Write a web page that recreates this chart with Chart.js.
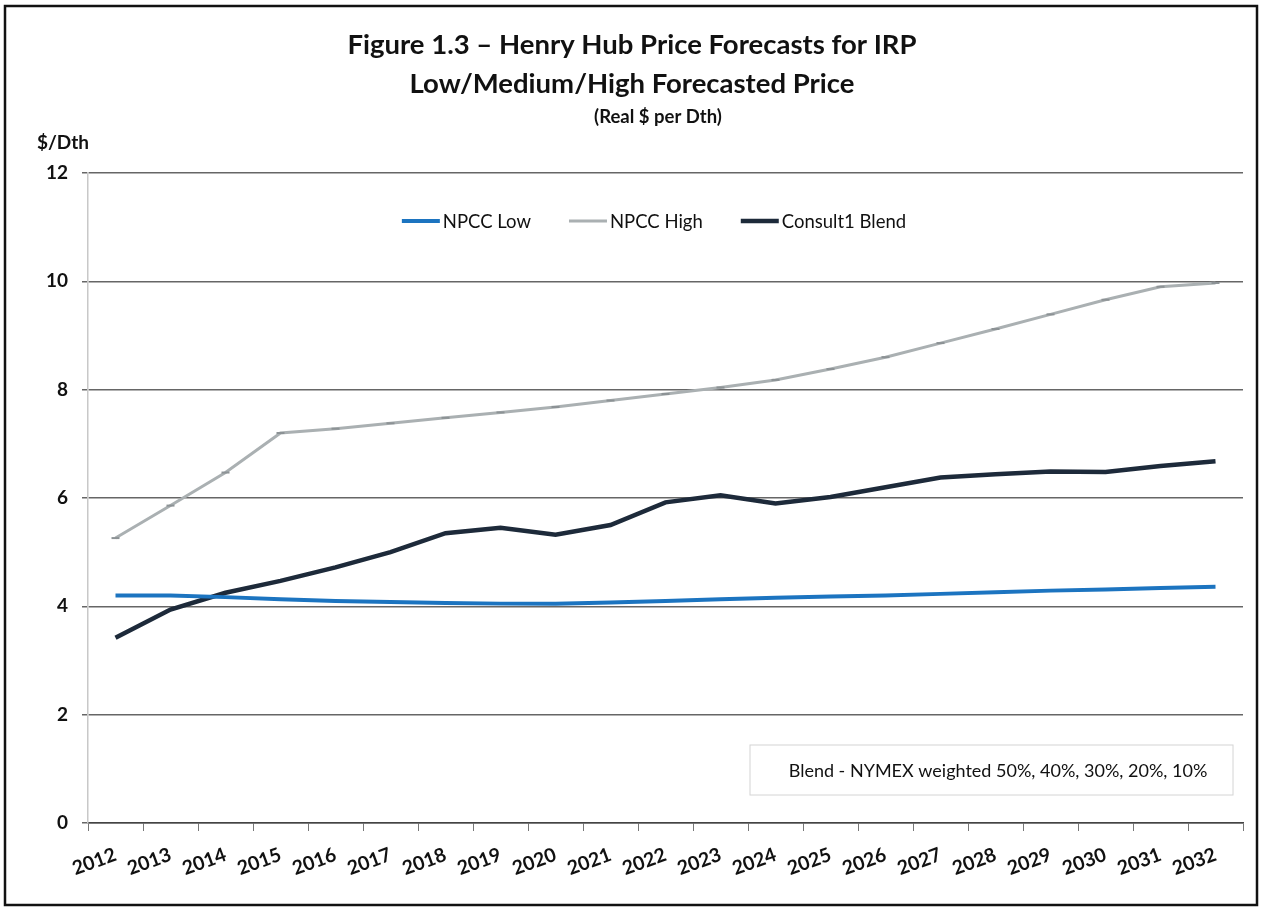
<!DOCTYPE html>
<html>
<head>
<meta charset="utf-8">
<script src="https://cdn.jsdelivr.net/npm/chart.js@4.4.0/dist/chart.umd.min.js"></script>
<style>
  html, body { margin: 0; padding: 0; background: #fff; }
  #wrap { width: 1262px; height: 909px; position: relative; }
</style>
</head>
<body>
<div id="wrap"><canvas id="chart" width="1262" height="909"></canvas></div>
<script>
// ========================
// DATA
// ========================
const years = ["2012", "2013", "2014", "2015", "2016", "2017", "2018", "2019", "2020", "2021", "2022",
  "2023", "2024", "2025", "2026", "2027", "2028", "2029", "2030", "2031", "2032"];
const npccLow = [4.2, 4.2, 4.17, 4.13, 4.1, 4.08, 4.06, 4.05, 4.05, 4.07, 4.1,
  4.13, 4.16, 4.18, 4.2, 4.23, 4.26, 4.29, 4.31, 4.34, 4.36];
const npccHigh = [5.26, 5.86, 6.47, 7.2, 7.28, 7.38, 7.48, 7.58, 7.68, 7.8, 7.92,
  8.04, 8.18, 8.38, 8.6, 8.86, 9.12, 9.39, 9.66, 9.9, 9.97];
const consultBlend = [3.42, 3.94, 4.25, 4.47, 4.72, 5.0, 5.35, 5.45, 5.32, 5.5, 5.92,
  6.05, 5.9, 6.02, 6.2, 6.38, 6.44, 6.49, 6.48, 6.59, 6.68];

const titleLines = ["Figure 1.3 \u2013 Henry Hub Price Forecasts for IRP", "Low/Medium/High Forecasted Price"];
const subTitle = "(Real $ per Dth)";
const yUnit = "$/Dth";
const noteText = "Blend - NYMEX weighted 50%, 40%, 30%, 20%, 10%";

const FONT = "Lato, 'Open Sans', sans-serif";

// ========================
// DECORATIONS (frame, titles, legend, note box)
// ========================
const decorations = {
  id: "decorations",
  beforeDraw(chart) {
    const ctx = chart.ctx;
    ctx.save();
    ctx.fillStyle = "#fff";
    ctx.fillRect(0, 0, chart.width, chart.height);
    ctx.strokeStyle = "#111";
    ctx.lineWidth = 2.5;
    ctx.strokeRect(5, 6, 1252, 899);
    ctx.restore();
  },
  afterDraw(chart) {
    const ctx = chart.ctx;
    const area = chart.chartArea;
    ctx.save();
    ctx.fillStyle = "#111";
    ctx.textAlign = "center";
    ctx.textBaseline = "middle";
    ctx.font = `bold 27.5px ${FONT}`;
    ctx.fillText(titleLines[0], 632, 45);
    ctx.fillText(titleLines[1], 632, 84);
    ctx.font = `bold 18.5px ${FONT}`;
    ctx.fillText(subTitle, 658, 117);

    ctx.textAlign = "left";
    ctx.font = `bold 19px ${FONT}`;
    ctx.fillText(yUnit, 37, 143);

    // legend inside plot, centred across the top band
    ctx.font = `18.5px ${FONT}`;
    const lineW = 38, gap = 3, spacing = 38;
    const items = chart.data.datasets.map((ds) => ({ ds, w: lineW + gap + ctx.measureText(ds.label).width }));
    const total = items.reduce((s, it) => s + it.w, 0) + spacing * (items.length - 1);
    let lx = 654 - total / 2;
    const ly = area.top + 48;
    items.forEach(({ ds, w }) => {
      ctx.strokeStyle = ds.borderColor;
      ctx.lineWidth = ds.borderWidth;
      ctx.beginPath();
      ctx.moveTo(lx, ly);
      ctx.lineTo(lx + lineW, ly);
      ctx.stroke();
      ctx.fillStyle = "#111";
      ctx.fillText(ds.label, lx + lineW + gap, ly + 1);
      lx += w + spacing;
    });

    // note box in lower right of plot
    const bx = area.right - 493, by = area.bottom - 78;
    ctx.strokeStyle = "#d4d4d4";
    ctx.lineWidth = 1;
    ctx.strokeRect(bx, by, 483, 50);
    ctx.textAlign = "center";
    ctx.fillStyle = "#111";
    ctx.font = `18px ${FONT}`;
    ctx.fillText(noteText, bx + 248, by + 26);
    ctx.restore();
  },
};

// ========================
// CHART
// ========================
const ctx = document.getElementById("chart").getContext("2d");
new Chart(ctx, {
  type: "line",
  data: {
    labels: years,
    datasets: [
      { label: "NPCC Low", data: npccLow, borderColor: "#1c74c0", backgroundColor: "#1c74c0",
        borderWidth: 4, pointRadius: 0, tension: 0 },
      { label: "NPCC High", data: npccHigh, borderColor: "#aab0b2", backgroundColor: "#aab0b2",
        borderWidth: 3, pointStyle: "line", pointRadius: 4, pointBorderColor: "#8c9295",
        pointBorderWidth: 2, tension: 0 },
      { label: "Consult1 Blend", data: consultBlend, borderColor: "#1d2a3a", backgroundColor: "#1d2a3a",
        borderWidth: 4.5, pointRadius: 0, tension: 0 },
    ],
  },
  options: {
    responsive: false,
    animation: false,
    layout: { padding: { top: 173, left: 0, right: 19, bottom: 0 } },
    plugins: {
      title: { display: false },
      tooltip: { enabled: false },
      legend: { display: false },
    },
    scales: {
      x: {
        offset: true,
        afterFit: (scale) => { scale.height = 86; },
        grid: { display: true, drawOnChartArea: false, drawTicks: true, tickLength: 8, color: "#777", offset: true },
        border: { display: true, color: "#444", width: 1.5 },
        ticks: {
          color: "#111",
          minRotation: 20,
          maxRotation: 20,
          autoSkip: false,
          padding: 12,
          font: { family: FONT, size: 19.5, weight: "bold" },
        },
      },
      y: {
        min: 0,
        max: 12,
        afterFit: (scale) => { scale.width = 88; },
        grid: { color: "#666", lineWidth: 1.5, tickLength: 6, drawTicks: true },
        border: { display: true, color: "#c8c8c8", width: 1.5 },
        ticks: {
          stepSize: 2,
          color: "#111",
          padding: 14,
          font: { family: FONT, size: 19, weight: "bold" },
        },
      },
    },
  },
  plugins: [decorations],
});
</script>
</body>
</html>
